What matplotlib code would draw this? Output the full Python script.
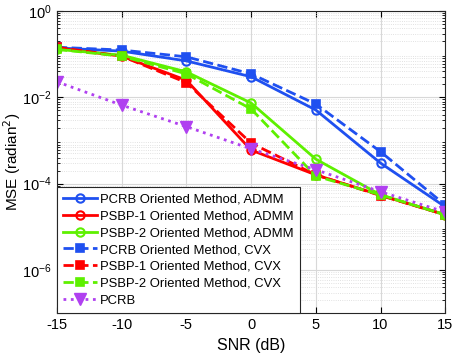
import matplotlib
matplotlib.use("Agg")
import matplotlib.pyplot as plt
from matplotlib.ticker import LogLocator, NullFormatter

plt.rcParams["font.family"] = ["Liberation Sans", "DejaVu Sans"]
plt.rcParams["axes.unicode_minus"] = False

snr = [-15, -10, -5, 0, 5, 10, 15]

pcrb_admm = [0.14, 0.118, 0.07, 0.03, 5.1e-3, 3.0e-4, 2.9e-5]
psbp1_admm = [0.14, 0.09, 0.025, 6.0e-4, 1.6e-4, 5.4e-5, 1.9e-5]
psbp2_admm = [0.13, 0.095, 0.039, 7.4e-3, 3.7e-4, 5.5e-5, 1.9e-5]
pcrb_cvx = [0.145, 0.125, 0.087, 0.035, 7.0e-3, 5.5e-4, 3.2e-5]
psbp1_cvx = [0.145, 0.09, 0.022, 8.7e-4, 1.6e-4, 5.3e-5, 1.9e-5]
psbp2_cvx = [0.13, 0.09, 0.035, 5.4e-3, 1.5e-4, 5.5e-5, 1.9e-5]
pcrb = [0.023, 6.6e-3, 2.1e-3, 6.4e-4, 2.1e-4, 6.5e-5, 2.2e-5]

blue = "#1f50f0"
red = "#ff0000"
green = "#5ef000"
purple = "#b040f0"

fig = plt.figure(figsize=(4.59, 3.57), dpi=100)
ax = fig.add_axes([0.124, 0.123, 0.846, 0.846])

ax.semilogy(snr, pcrb_admm, "-o", color=blue, lw=2, ms=6, mfc="none", mew=1.5,
            label="PCRB Oriented Method, ADMM")
ax.semilogy(snr, psbp1_admm, "-o", color=red, lw=2, ms=6, mfc="none", mew=1.5,
            label="PSBP-1 Oriented Method, ADMM")
ax.semilogy(snr, psbp2_admm, "-o", color=green, lw=2, ms=6, mfc="none", mew=1.5,
            label="PSBP-2 Oriented Method, ADMM")
ax.semilogy(snr, pcrb_cvx, "--s", color=blue, lw=2, ms=5.5, mew=1.2,
            label="PCRB Oriented Method, CVX")
ax.semilogy(snr, psbp1_cvx, "--s", color=red, lw=2, ms=5.5, mew=1.2,
            label="PSBP-1 Oriented Method, CVX")
ax.semilogy(snr, psbp2_cvx, "--s", color=green, lw=2, ms=5.5, mew=1.2,
            label="PSBP-2 Oriented Method, CVX")
ax.semilogy(snr, pcrb, ":v", color=purple, lw=2, ms=8,
            label="PCRB")

ax.set_xlim(-15, 15)
ax.set_ylim(1e-7, 1)
ax.set_xticks(snr)
ax.set_yticks([1e0, 1e-2, 1e-4, 1e-6])
ax.yaxis.set_minor_locator(LogLocator(base=10, subs=range(2, 10), numticks=20))
ax.yaxis.set_minor_formatter(NullFormatter())
ax.tick_params(which="both", direction="in", top=True, right=True, labelsize=10.5)
ax.tick_params(which="major", length=4)
ax.tick_params(which="minor", length=2)
ax.grid(True, which="major", color="#d8d8d8", lw=0.8)
ax.grid(True, which="minor", axis="y", color="#d8d8d8", lw=0.6, ls=":")
ax.set_axisbelow(True)
for s in ax.spines.values():
    s.set_color("#262626")
    s.set_linewidth(0.8)

ax.set_xlabel("SNR (dB)", fontsize=11.5)
ax.set_ylabel("MSE (radian$^2$)", fontsize=11)
ax.yaxis.set_label_coords(-0.088, 0.5)

leg = ax.legend(loc="lower left", fontsize=9.4, frameon=True, fancybox=False,
                edgecolor="#262626", framealpha=1, borderaxespad=0,
                handlelength=2.6, handletextpad=0.2, labelspacing=0.36,
                borderpad=0.5)
leg.get_frame().set_linewidth(0.8)

fig.savefig("out.png", dpi=100)
